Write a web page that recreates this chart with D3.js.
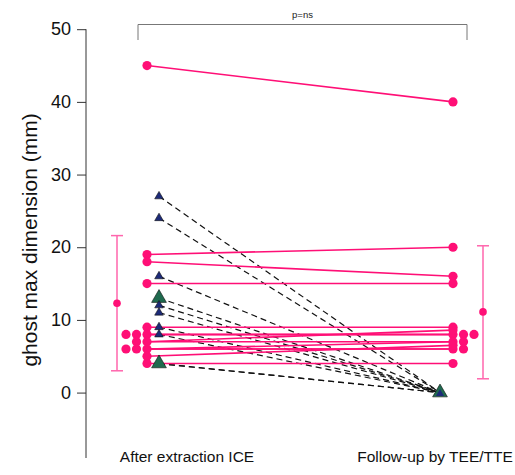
<!DOCTYPE html>
<html>
<head>
<meta charset="utf-8">
<script src="https://cdn.jsdelivr.net/npm/d3@7"></script>
<style>
  body { margin: 0; background: #fff; }
  text { font-family: "Liberation Sans", Arial, sans-serif; }
</style>
</head>
<body>
<div id="wrapper"></div>
<script>
// categories / axis labels
const groups = ["After extraction ICE", "Follow-up by TEE/TTE"]
const yTicks = [0, 10, 20, 30, 40, 50]
const yLabel = "ghost max dimension (mm)"
const pLabel = "p=ns"

// paired ghosts still visible at follow-up (pink)
const pinkBefore = [45, 19, 18, 15, 9, 8, 8, 8, 7, 7, 6, 6, 6, 5, 4]
const pinkAfter  = [40, 20, 16, 15, 9, 8, 8, 8, 8.6, 7, 6, 6, 7, 6.5, 4]

// ghosts that disappeared at follow-up (triangles)
const triBefore = [27, 24, 16, 13, 12, 11, 9, 8, 4, 4]
const triAfter  = [0, 0, 0, 0, 0, 0, 0, 0, 0, 0]
const triLarge  = [false, false, false, true, false, false, false, false, false, true]

// mean and error bar (low, mean, high) per group
const summaryMean = [12.3, 11.1]
const summaryLow  = [3.0, 1.9]
const summaryHigh = [21.6, 20.2]

const width = 515, height = 475
const pink = "#ff0f76", pinkBar = "#ff66ad"
const navy = "#1c2a78", green = "#1f6a4e"

const svg = d3.select("#wrapper").append("svg")
  .attr("width", width)
  .attr("height", height)

const y = d3.scaleLinear().domain([-9, 50]).range([458, 29.2])
const x = d3.scaleLinear().domain([0, 1]).range([147, 453])

// y axis
svg.append("g")
  .attr("transform", "translate(86,0)")
  .call(d3.axisLeft(y).tickValues(yTicks).tickSize(9).tickPadding(6).tickSizeOuter(0))
  .call(g => g.select(".domain").attr("stroke", "#333").attr("d", `M0,${y(50)}V${y(-9)}`))
  .call(g => g.selectAll(".tick line").attr("stroke", "#333"))
  .call(g => g.selectAll(".tick text")
    .attr("fill", "#111")
    .style("font-size", "18px")
    .style("font-family", "Liberation Sans, Arial, sans-serif"))

svg.append("text")
  .attr("transform", `translate(37,${y(21)}) rotate(-90)`)
  .attr("text-anchor", "middle")
  .style("font-size", "21px")
  .attr("fill", "#111")
  .text(yLabel)

// group labels
groups.forEach((g, i) => {
  svg.append("text")
    .attr("x", x(i) + (i === 0 ? 40 : -18))
    .attr("y", 462)
    .attr("text-anchor", "middle")
    .style("font-size", "15.5px")
    .attr("fill", "#111")
    .text(g)
})

// significance bracket
const bx0 = x(0) - 9, bx1 = x(1) + 14
svg.append("path")
  .attr("d", `M${bx0},40V24.5H${bx1}V40`)
  .attr("fill", "none")
  .attr("stroke", "#777")
  .attr("stroke-width", 1)
svg.append("text")
  .attr("x", (bx0 + bx1) / 2)
  .attr("y", 18)
  .attr("text-anchor", "middle")
  .style("font-size", "9.5px")
  .attr("fill", "#222")
  .text(pLabel)

// offset duplicates outward, like a small swarm
function dodge(values, dir) {
  const seen = new Map()
  return values.map(v => {
    const k = seen.get(v) || 0
    seen.set(v, k + 1)
    return dir * k * 10.5
  })
}
const offB = dodge(pinkBefore, -1)
const offA = dodge(pinkAfter, 1)

// dashed lines for disappeared ghosts
const triX0 = x(0) + 12, triX1 = x(1) - 13
svg.append("g").selectAll("line")
  .data(triBefore)
  .join("line")
  .attr("x1", triX0)
  .attr("y1", d => y(d))
  .attr("x2", triX1)
  .attr("y2", (d, i) => y(triAfter[i]))
  .attr("stroke", "#111")
  .attr("stroke-width", 1.2)
  .attr("stroke-dasharray", "6,4")

// pink paired lines
svg.append("g").selectAll("line")
  .data(pinkBefore)
  .join("line")
  .attr("x1", x(0))
  .attr("y1", d => y(d))
  .attr("x2", x(1))
  .attr("y2", (d, i) => y(pinkAfter[i]))
  .attr("stroke", pink)
  .attr("stroke-width", 1.6)

// pink dots
const dots = svg.append("g").attr("fill", pink)
dots.selectAll(".b")
  .data(pinkBefore)
  .join("circle")
  .attr("class", "b")
  .attr("cx", (d, i) => x(0) + offB[i])
  .attr("cy", d => y(d))
  .attr("r", 4.6)
dots.selectAll(".a")
  .data(pinkAfter)
  .join("circle")
  .attr("class", "a")
  .attr("cx", (d, i) => x(1) + offA[i])
  .attr("cy", d => y(d))
  .attr("r", 4.6)

// triangles
const tri = (size) => d3.symbol().type(d3.symbolTriangle).size(size)()
const tris = svg.append("g")
tris.selectAll("path")
  .data(triBefore)
  .join("path")
  .attr("transform", d => `translate(${triX0},${y(d)})`)
  .attr("d", (d, i) => tri(triLarge[i] ? 95 : 32))
  .attr("fill", (d, i) => triLarge[i] ? green : navy)
  .attr("stroke", "#111")
  .attr("stroke-width", 0.6)
// follow-up triangle (all zero)
tris.append("path")
  .attr("transform", `translate(${triX1},${y(0)})`)
  .attr("d", tri(95))
  .attr("fill", green)
  .attr("stroke", "#111")
  .attr("stroke-width", 0.6)
tris.append("path")
  .attr("transform", `translate(${triX1},${y(0) + 1})`)
  .attr("d", tri(28))
  .attr("fill", navy)

// mean +/- error bars
const barX = [x(0) - 30, x(1) + 30]
summaryMean.forEach((m, i) => {
  const g = svg.append("g").attr("stroke", pinkBar).attr("stroke-width", 1.5)
  g.append("line").attr("x1", barX[i]).attr("x2", barX[i])
    .attr("y1", y(summaryLow[i])).attr("y2", y(summaryHigh[i]))
  ;[summaryLow[i], summaryHigh[i]].forEach(v => {
    g.append("line").attr("x1", barX[i] - 6).attr("x2", barX[i] + 6)
      .attr("y1", y(v)).attr("y2", y(v))
  })
  svg.append("circle")
    .attr("cx", barX[i]).attr("cy", y(m)).attr("r", 3.8)
    .attr("fill", pink)
})
</script>
</body>
</html>
